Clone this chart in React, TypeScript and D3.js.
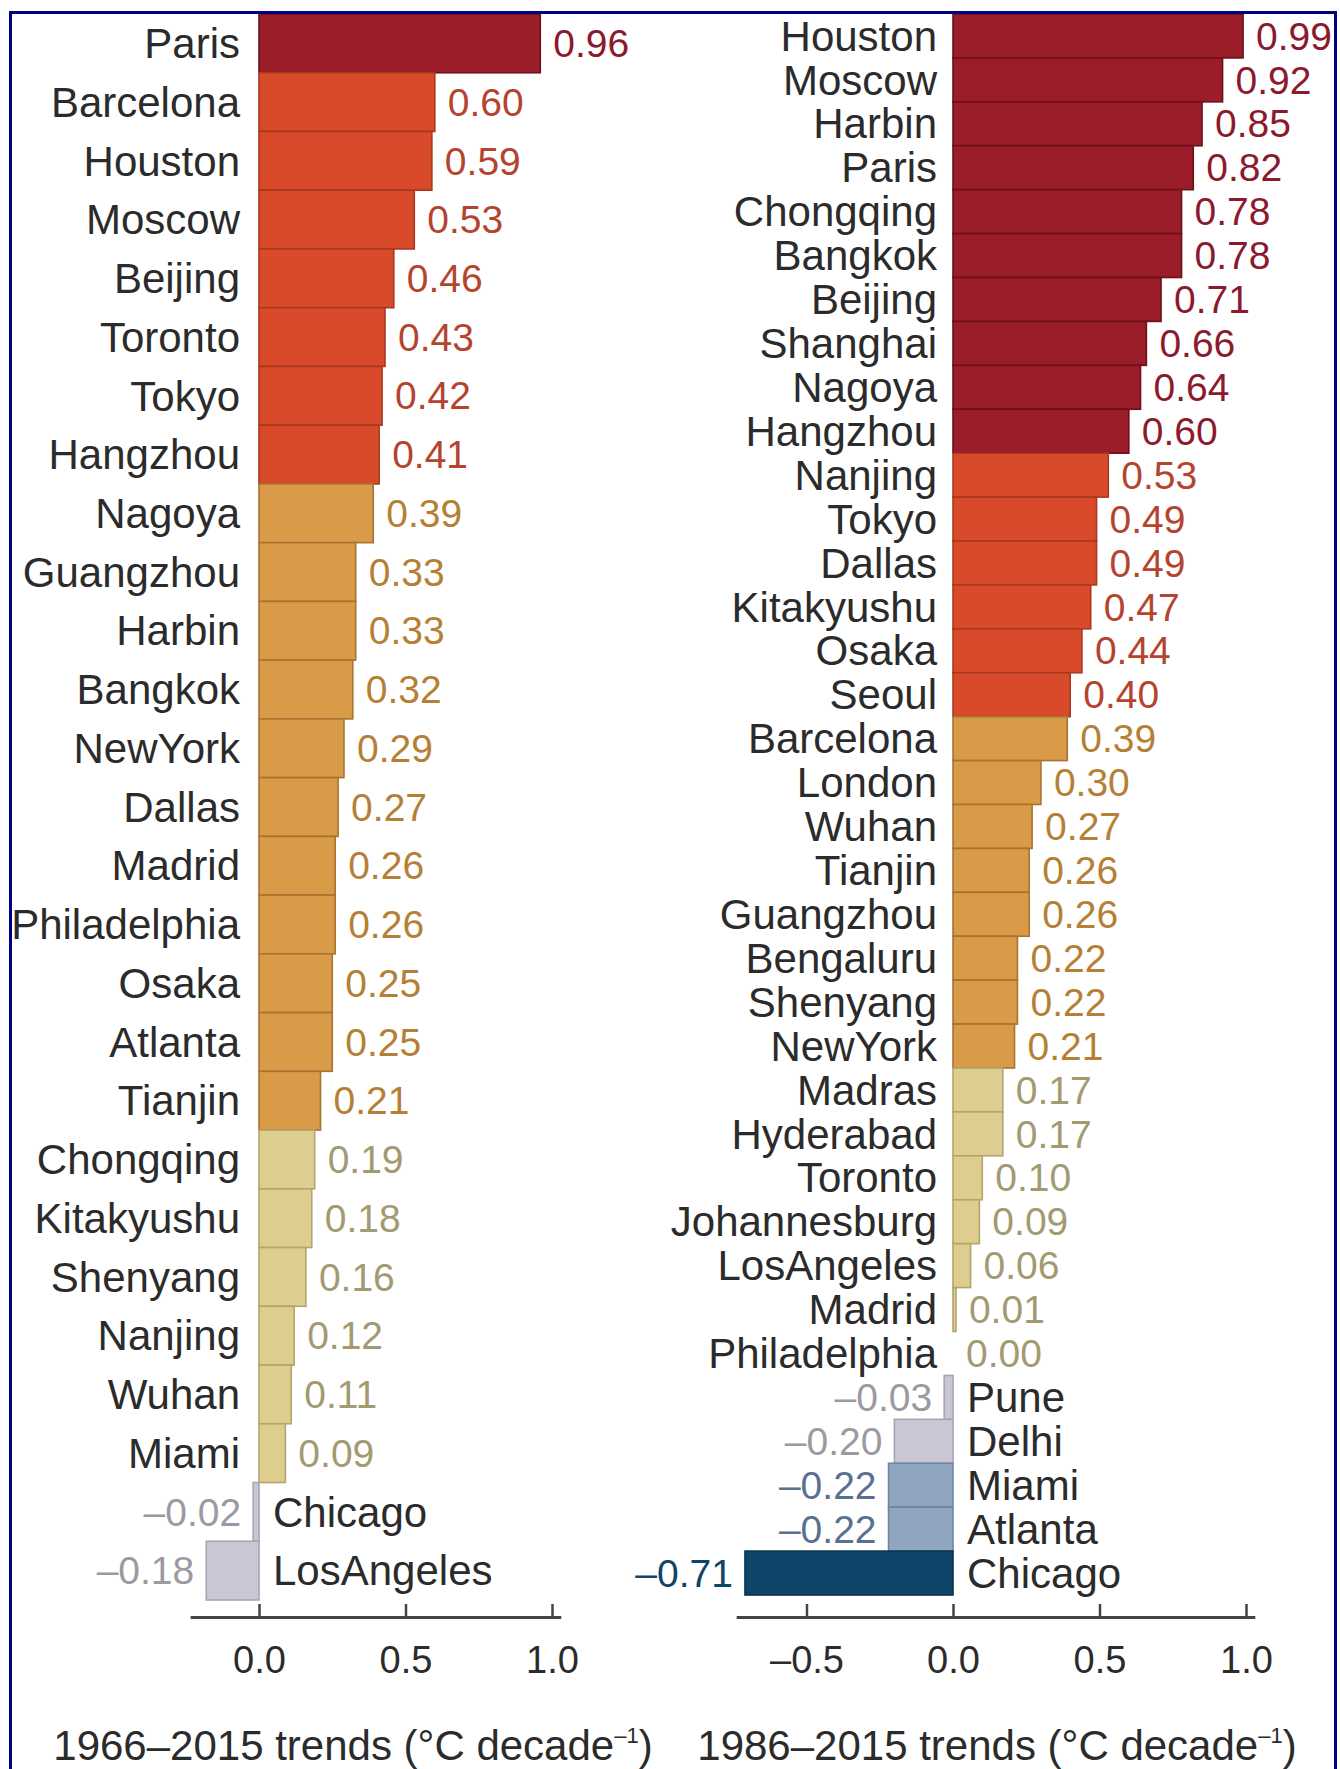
import React, {useEffect, useRef} from 'react'
import * as d3 from 'd3'

// 1966–2015 trends
const leftCities = ['Paris', 'Barcelona', 'Houston', 'Moscow', 'Beijing', 'Toronto', 'Tokyo', 'Hangzhou',
  'Nagoya', 'Guangzhou', 'Harbin', 'Bangkok', 'NewYork', 'Dallas', 'Madrid', 'Philadelphia', 'Osaka',
  'Atlanta', 'Tianjin', 'Chongqing', 'Kitakyushu', 'Shenyang', 'Nanjing', 'Wuhan', 'Miami', 'Chicago', 'LosAngeles'];
const leftValues = [0.96, 0.60, 0.59, 0.53, 0.46, 0.43, 0.42, 0.41,
  0.39, 0.33, 0.33, 0.32, 0.29, 0.27, 0.26, 0.26, 0.25,
  0.25, 0.21, 0.19, 0.18, 0.16, 0.12, 0.11, 0.09, -0.02, -0.18];
const leftTiers = [6, 5, 5, 5, 5, 5, 5, 5,
  4, 4, 4, 4, 4, 4, 4, 4, 4,
  4, 4, 3, 3, 3, 3, 3, 3, 2, 2];

// 1986–2015 trends
const rightCities = ['Houston', 'Moscow', 'Harbin', 'Paris', 'Chongqing', 'Bangkok', 'Beijing', 'Shanghai',
  'Nagoya', 'Hangzhou', 'Nanjing', 'Tokyo', 'Dallas', 'Kitakyushu', 'Osaka', 'Seoul', 'Barcelona', 'London',
  'Wuhan', 'Tianjin', 'Guangzhou', 'Bengaluru', 'Shenyang', 'NewYork', 'Madras', 'Hyderabad', 'Toronto',
  'Johannesburg', 'LosAngeles', 'Madrid', 'Philadelphia', 'Pune', 'Delhi', 'Miami', 'Atlanta', 'Chicago'];
const rightValues = [0.99, 0.92, 0.85, 0.82, 0.78, 0.78, 0.71, 0.66,
  0.64, 0.60, 0.53, 0.49, 0.49, 0.47, 0.44, 0.40, 0.39, 0.30,
  0.27, 0.26, 0.26, 0.22, 0.22, 0.21, 0.17, 0.17, 0.10,
  0.09, 0.06, 0.01, 0.00, -0.03, -0.20, -0.22, -0.22, -0.71];
const rightTiers = [6, 6, 6, 6, 6, 6, 6, 6,
  6, 6, 5, 5, 5, 5, 5, 5, 4, 4,
  4, 4, 4, 4, 4, 4, 3, 3, 3,
  3, 3, 3, 3, 2, 2, 1, 1, 0];

const leftTicks = [0, 0.5, 1];
const rightTicks = [-0.5, 0, 0.5, 1];

// tier -> colours
const fills = ['#0d4468', '#8fa5c0', '#cbc6d3', '#ddcd8f', '#d99b47', '#d94a2b', '#9b1d29'];
const strokes = ['#0a3452', '#6f87a3', '#a9a4b3', '#b3a56b', '#a7742f', '#a8391f', '#6c101a'];
const textCols = ['#0d4468', '#5a7090', '#9b99a1', '#a29a70', '#b58036', '#b5442f', '#8b1a2d'];

const FONT = '"Liberation Sans", Arial, Helvetica, sans-serif';
const fmt = (v: number) => (v < 0 ? '\u2013' : '') + d3.format('.2f')(Math.abs(v));
const tickFmt = (v: number) => (v < 0 ? '\u2013' : '') + d3.format('.1f')(Math.abs(v));

const PX_PER_UNIT = 293;

const Panel = ({cities, values, tiers, zero, xMin, xMax, bottom, ticks, titleX, titleStart, labelGap}: any) => {
  const axisRef = useRef<SVGGElement>(null);

  const x = d3.scaleLinear()
    .domain([xMin, xMax])
    .range([zero + xMin * PX_PER_UNIT, zero + xMax * PX_PER_UNIT]);

  const y = d3.scaleBand()
    .domain(cities.map((c: string, i: number) => i + ''))
    .range([14, bottom])
    .padding(0);

  useEffect(() => {
    const g = d3.select(axisRef.current);
    g.selectAll('*').remove();
    g.call(d3.axisBottom(x)
      .tickValues(ticks)
      .tickSizeInner(-13)
      .tickSizeOuter(0)
      .tickPadding(29)
      .tickFormat(tickFmt as any));
    g.select('.domain').attr('stroke', '#444').attr('stroke-width', 3);
    g.selectAll('.tick line').attr('stroke', '#444').attr('stroke-width', 2.5);
    g.selectAll('.tick text')
      .attr('fill', '#2b2b2b')
      .attr('font-size', 38)
      .attr('font-family', FONT);
  }, []);

  return (
    <g>
      {cities.map((c: string, i: number) => {
        const v = values[i];
        const t = tiers[i];
        const y0 = y(i + '') as number;
        const h = y.bandwidth();
        const cy = y0 + h / 2;
        const x0 = x(Math.min(0, v));
        const x1 = x(Math.max(0, v));
        const neg = v < 0;
        return (
          <g key={c}>
            <rect x={x0} y={y0} width={x1 - x0} height={h}
                  fill={fills[t]} stroke={strokes[t]} strokeWidth={1.6}/>
            <text x={neg ? x(0) + 14 : x(0) - labelGap} y={cy} dy="0.35em"
                  textAnchor={neg ? 'start' : 'end'} fontSize={42} fill="#2b2b2b" fontFamily={FONT}>{c}</text>
            <text x={neg ? x(v) - 12 : x(v) + 13} y={cy} dy="0.35em"
                  textAnchor={neg ? 'end' : 'start'} fontSize={39} fill={textCols[t]} fontFamily={FONT}>{fmt(v)}</text>
          </g>
        )
      })}
      <g ref={axisRef} transform="translate(0,1617)"/>
      <text x={titleX} y={1760} textAnchor="middle" fontSize={42} fill="#2b2b2b" fontFamily={FONT}>
        {titleStart} trends (°C decade<tspan fontSize={22} dy={-17}>{'\u2013'}1</tspan><tspan dy={17}>)</tspan>
      </text>
    </g>
  )
};

const App = () => {
  return (
    <div>
      <style>{`body{margin:0;background:#fff}`}</style>
      <svg width={1340} height={1769} style={{display: 'block'}}>
        <rect x={0} y={0} width={1340} height={1769} fill="#fff"/>
        <Panel cities={leftCities} values={leftValues} tiers={leftTiers}
               zero={259} xMin={-0.235} xMax={1.03} bottom={1600} ticks={leftTicks}
               titleX={353} titleStart={'1966\u20132015'} labelGap={19}/>
        <Panel cities={rightCities} values={rightValues} tiers={rightTiers}
               zero={953} xMin={-0.74} xMax={1.03} bottom={1595} ticks={rightTicks}
               titleX={997} titleStart={'1986\u20132015'} labelGap={16}/>
        <rect x={10.5} y={12.5} width={1325} height={1800} fill="none" stroke="#000085" strokeWidth={3}/>
      </svg>
    </div>
  )
};

export default App
